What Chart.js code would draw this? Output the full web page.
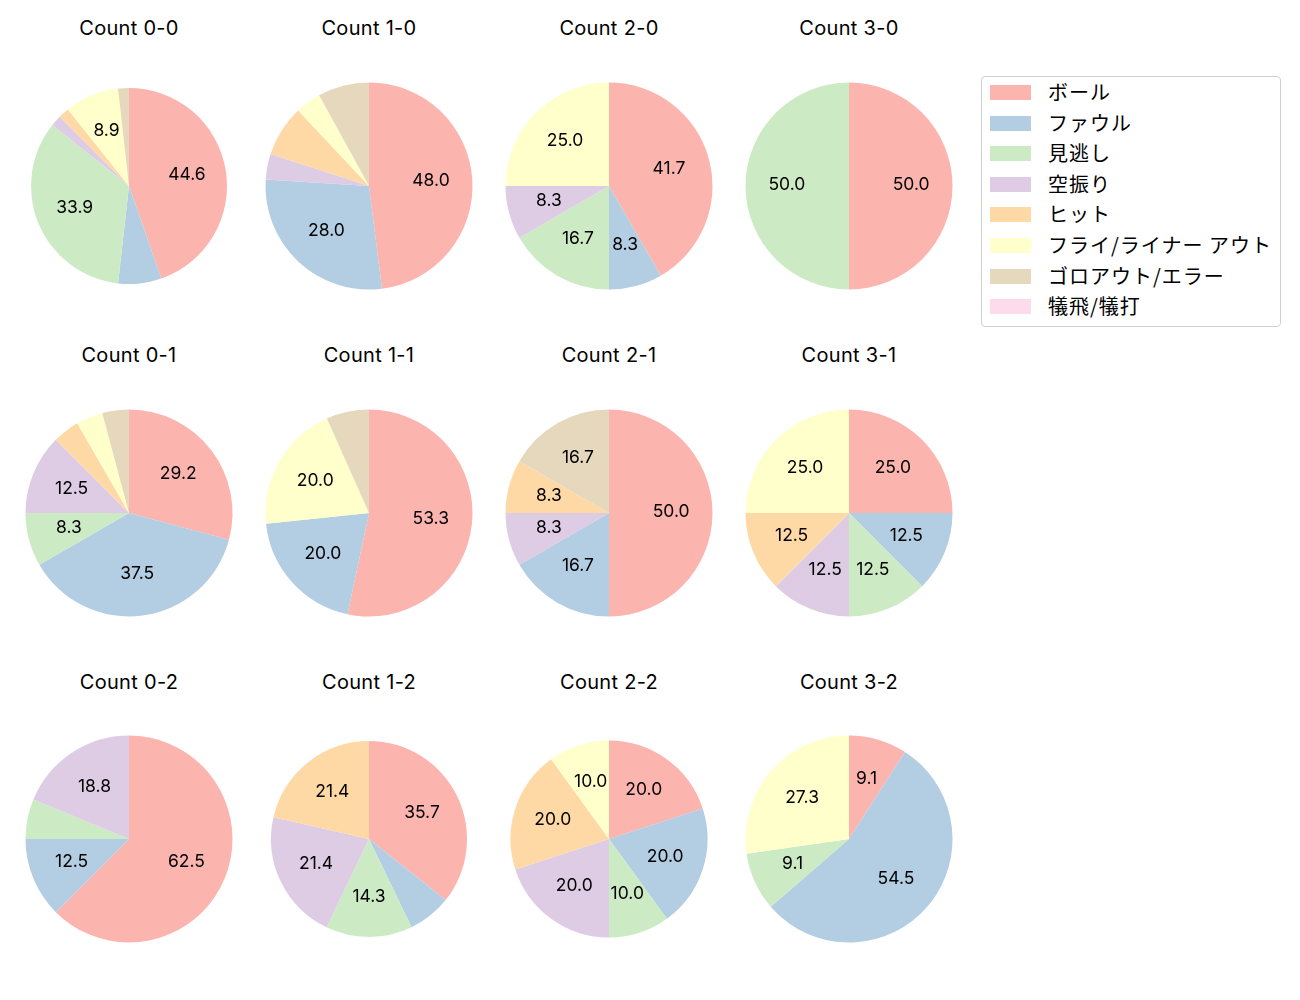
<!DOCTYPE html>
<html>
<head>
<meta charset="utf-8">
<script src="https://cdn.jsdelivr.net/npm/chart.js@4"></script>
<style>
  body { margin: 0; background: #fff; font-family: Inter, "Noto Sans CJK JP", sans-serif; }
  #wrap { position: relative; width: 1300px; height: 1000px; }
  .pie { position: absolute; }
  .ttl { position: absolute; width: 200px; text-align: center; font-size: 20px; letter-spacing: 0.3px; color: #000; line-height: 1; }
  #legend { position: absolute; left: 981px; top: 76px; width: 298px; height: 249px;
            border: 1px solid #d0d0d0; border-radius: 4px; }
  .lg-row { position: absolute; left: 0; height: 20px; }
  .lg-box { position: absolute; left: 8px; top: 2px; width: 41px; height: 15px; }
  .lg-txt { position: absolute; left: 66px; top: -1px; font-family: "Noto Sans CJK JP", sans-serif;
            font-size: 20px; letter-spacing: 1px; line-height: 20px; white-space: nowrap; color: #000; }
</style>
</head>
<body>
<div id="wrap"><div id="legend"></div></div>
<script>
// ============================================================
// Data (件数, 割合は描画時に計算)
// ============================================================
const categories = ['ボール', 'ファウル', '見逃し', '空振り', 'ヒット', 'フライ/ライナー アウト', 'ゴロアウト/エラー', '犠飛/犠打'];
const colors = ['#fbb4ae', '#b3cde3', '#ccebc5', '#decbe4', '#fed9a6', '#ffffcc', '#e5d8bd', '#fddaec'];

const titles = ['Count 0-0', 'Count 1-0', 'Count 2-0', 'Count 3-0',
                'Count 0-1', 'Count 1-1', 'Count 2-1', 'Count 3-1',
                'Count 0-2', 'Count 1-2', 'Count 2-2', 'Count 3-2'];

const c00 = [25, 4, 19, 1, 1, 5, 1, 0];
const c10 = [12, 7, 0, 1, 2, 1, 2, 0];
const c20 = [5, 1, 2, 1, 0, 3, 0, 0];
const c30 = [1, 0, 1, 0, 0, 0, 0, 0];
const c01 = [7, 9, 2, 3, 1, 1, 1, 0];
const c11 = [8, 3, 0, 0, 0, 3, 1, 0];
const c21 = [6, 2, 0, 1, 1, 0, 2, 0];
const c31 = [2, 1, 1, 1, 1, 2, 0, 0];
const c02 = [10, 2, 1, 3, 0, 0, 0, 0];
const c12 = [5, 1, 2, 3, 3, 0, 0, 0];
const c22 = [2, 2, 1, 2, 2, 1, 0, 0];
const c32 = [1, 6, 1, 0, 0, 3, 0, 0];
const series = [c00, c10, c20, c30, c01, c11, c21, c31, c02, c12, c22, c32];

// ============================================================
// Layout
// ============================================================
const colX = [129, 369, 609, 849];
const rowY = [185.5, 512.5, 839];
const titleY = [28, 355, 682];
const radius = [98, 103.5, 103.5, 103.5, 103.5, 103.5, 103.5, 103.5, 103.5, 98, 98.5, 103.5];
const SIZE = 240;

// percentage labels at 0.6 of the radius (matplotlib pctdistance)
const pctLabels = {
  id: 'pctLabels',
  afterDatasetsDraw(chart) {
    const ctx = chart.ctx;
    const data = chart.data.datasets[0].data;
    const total = data.reduce((a, b) => a + b, 0);
    ctx.save();
    ctx.font = '17.5px Inter, "Noto Sans CJK JP", sans-serif';
    ctx.fillStyle = '#000';
    ctx.textAlign = 'center';
    ctx.textBaseline = 'middle';
    chart.getDatasetMeta(0).data.forEach((arc, i) => {
      const pct = data[i] / total * 100;
      if (pct <= 8) return;
      const p = arc.getProps(['x', 'y', 'startAngle', 'endAngle', 'outerRadius'], true);
      const mid = (p.startAngle + p.endAngle) / 2;
      const r = p.outerRadius * 0.6;
      ctx.fillText(pct.toFixed(1), p.x + Math.cos(mid) * r, p.y + Math.sin(mid) * r - 1);
    });
    ctx.restore();
  }
};

const wrap = document.getElementById('wrap');

series.forEach((vals, k) => {
  const col = k % 4, row = Math.floor(k / 4);
  const cv = document.createElement('canvas');
  cv.className = 'pie';
  cv.width = SIZE; cv.height = SIZE;
  cv.style.left = (colX[col] - SIZE / 2) + 'px';
  cv.style.top = (rowY[row] - SIZE / 2) + 'px';
  wrap.appendChild(cv);

  const t = document.createElement('div');
  t.className = 'ttl';
  t.textContent = titles[k];
  t.style.left = (colX[col] - 100) + 'px';
  t.style.top = (titleY[row] - 10) + 'px';
  wrap.appendChild(t);

  new Chart(cv.getContext('2d'), {
    type: 'pie',
    data: {
      labels: categories,
      datasets: [{ data: vals, backgroundColor: colors, borderWidth: 0, radius: radius[k] }],
    },
    options: {
      responsive: false,
      animation: false,
      layout: { padding: 0 },
      plugins: { legend: { display: false }, tooltip: { enabled: false } },
    },
    plugins: [pctLabels],
  });
});

// ============================================================
// Legend
// ============================================================
const legend = document.getElementById('legend');
categories.forEach((name, i) => {
  const row = document.createElement('div');
  row.className = 'lg-row';
  row.style.top = (6 + i * 30.6) + 'px';
  row.innerHTML = `<span class="lg-box" style="background:${colors[i]}"></span><span class="lg-txt">${name}</span>`;
  legend.appendChild(row);
});
</script>
</body>
</html>
